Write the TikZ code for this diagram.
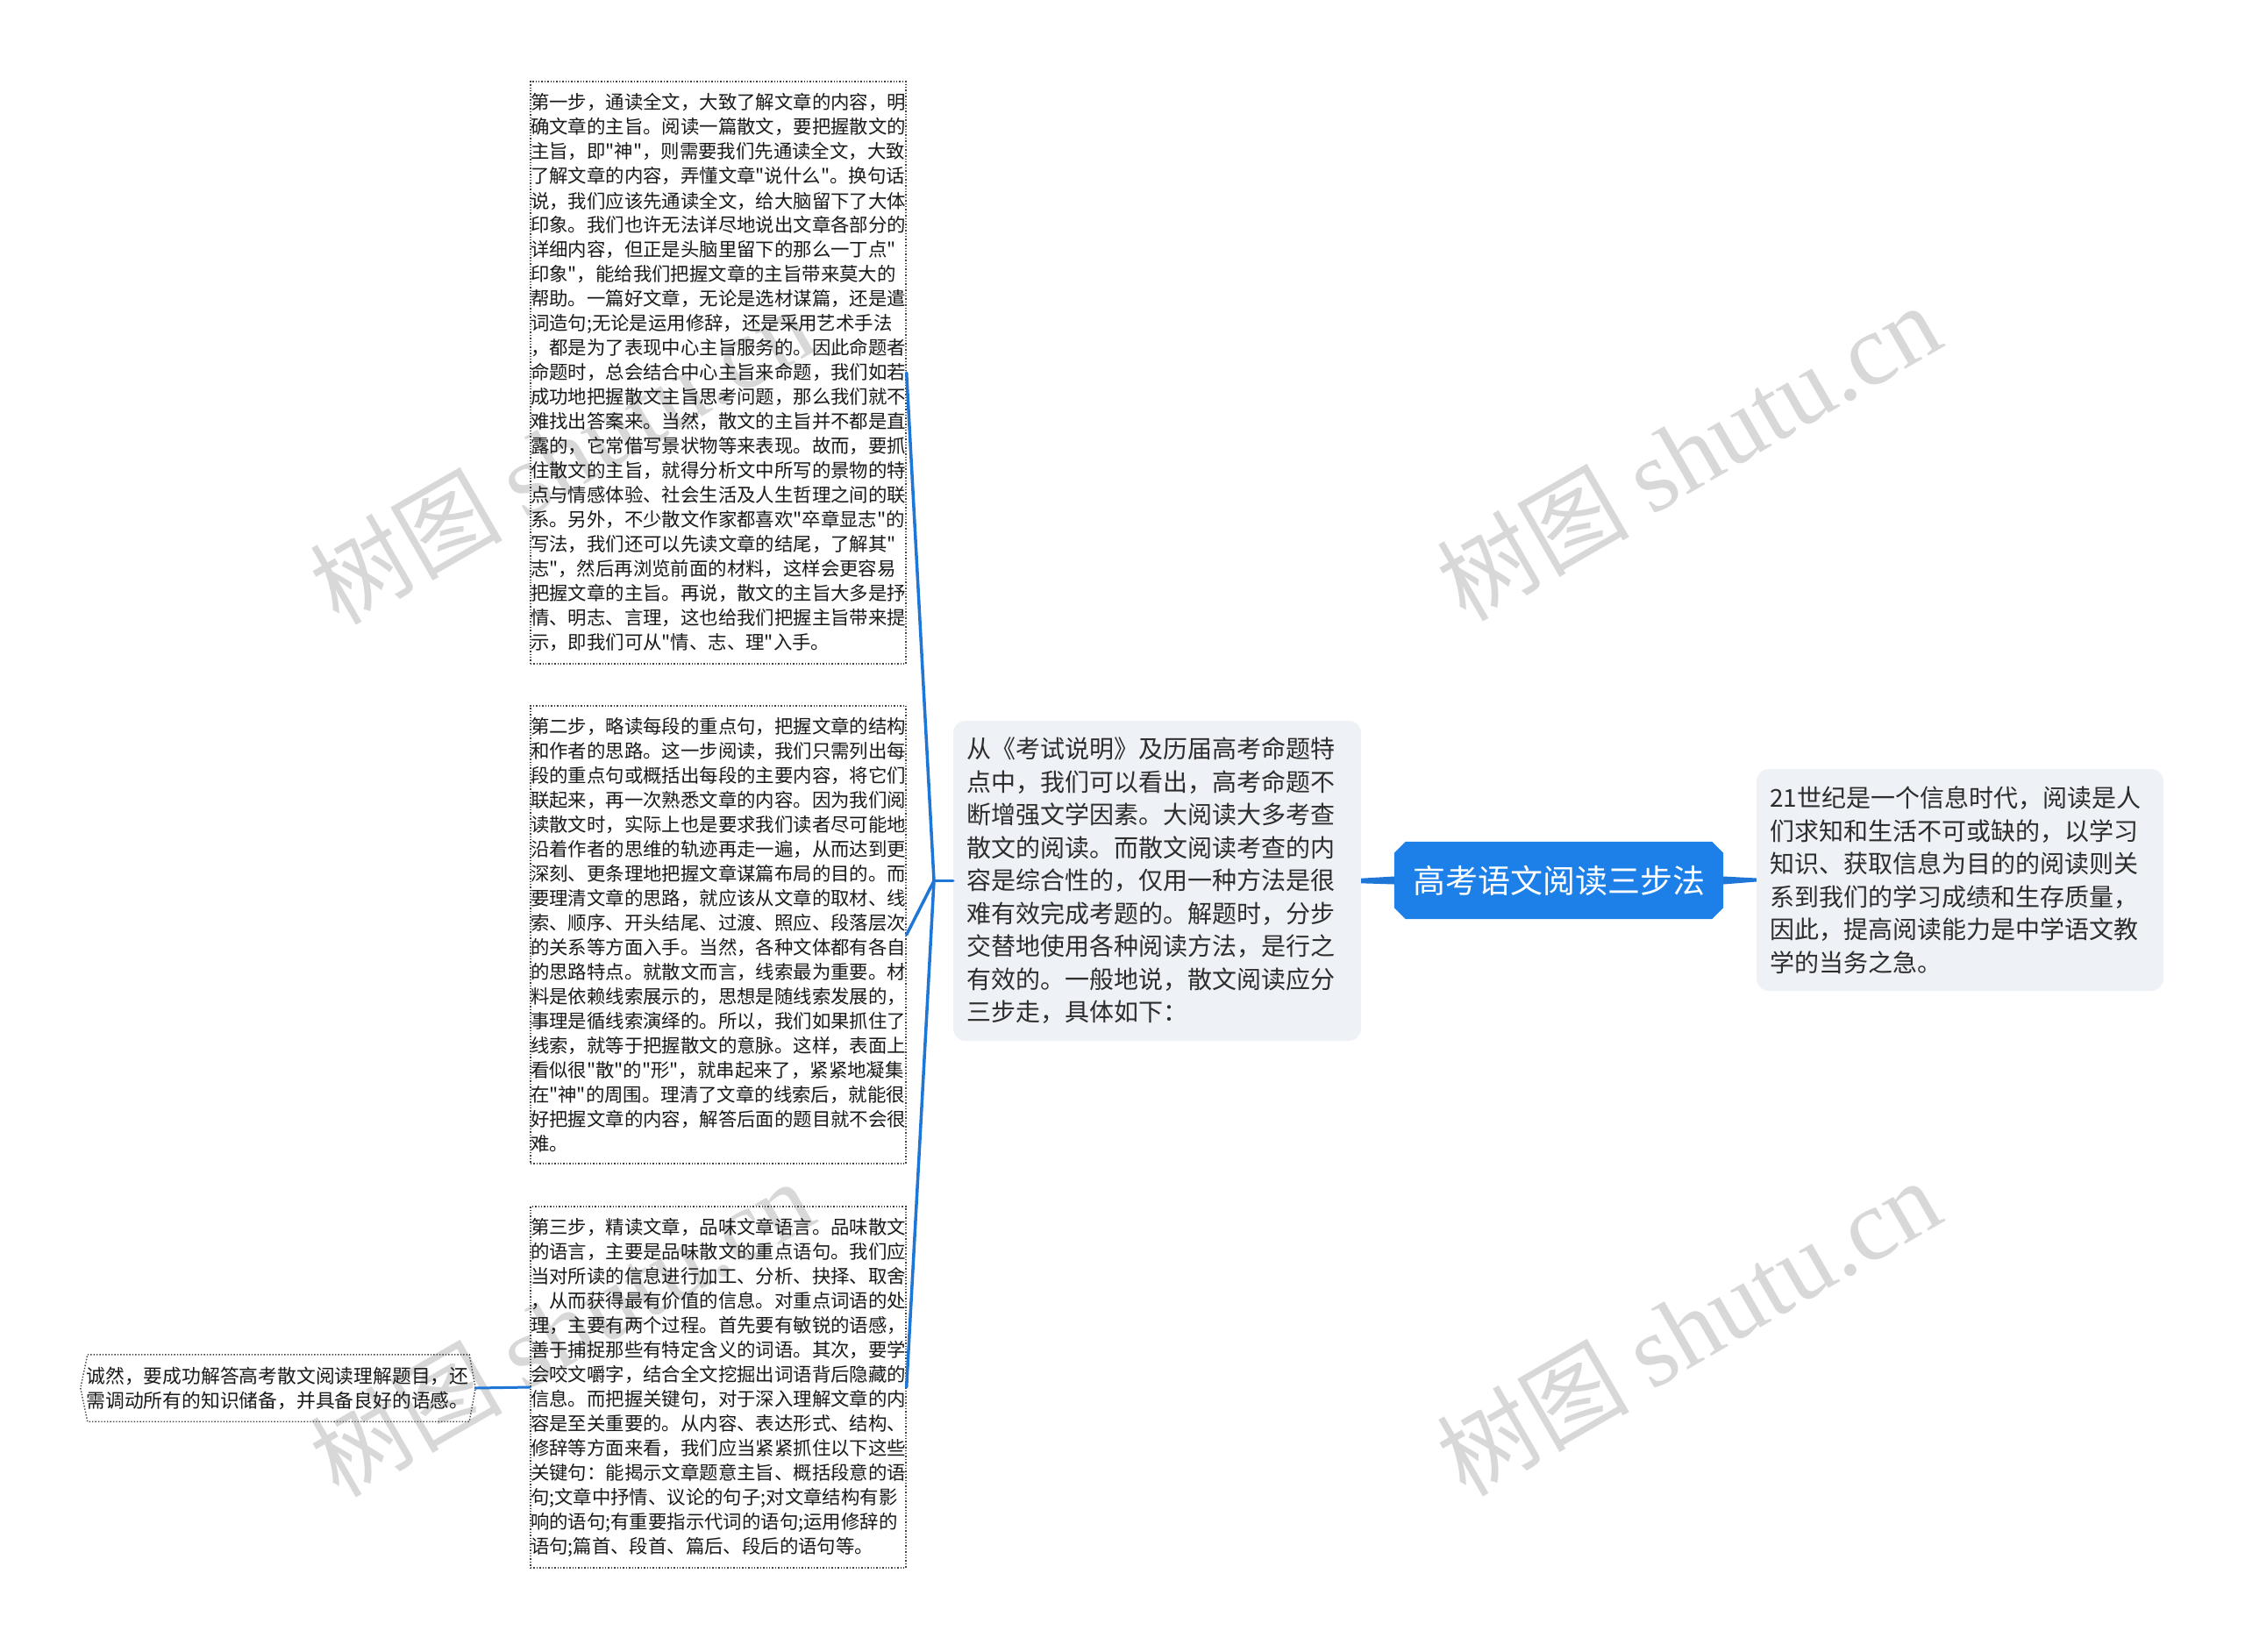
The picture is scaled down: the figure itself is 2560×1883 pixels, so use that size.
\documentclass[tikz,border=0pt]{standalone}
\usepackage{fontspec}
\setmainfont{Noto Sans CJK SC}[Ligatures=TeXOff]
\newfontfamily\cjkfont{Noto Sans CJK SC}
\newfontfamily\wmlatin{Liberation Serif}
\usetikzlibrary{calc,backgrounds}
\definecolor{lineblue}{RGB}{30,118,214}
\definecolor{rootblue}{RGB}{28,128,232}
\definecolor{boxgray}{RGB}{238,241,245}
\definecolor{txt}{RGB}{45,45,45}
\definecolor{wm}{RGB}{216,216,216}
\tikzset{
  stepbox/.style={draw=black!75, dotted, line width=1.4pt, text width=428pt, inner xsep=0pt, inner ysep=0pt,
    align=left, font=\cjkfont\fontsize{21.4pt}{28pt}\selectfont, text=black!90},
  leafbox/.style={text width=437pt, inner xsep=6.5pt, inner ysep=0pt, minimum height=76pt,
    align=left, font=\cjkfont\fontsize{21.8pt}{28pt}\selectfont, text=black!90},
  softbox/.style={fill=boxgray, rounded corners=14pt, inner xsep=15pt, inner ysep=0pt,
    align=left, font=\cjkfont\fontsize{28pt}{37.5pt}\selectfont, text=txt},
  rootbox/.style={minimum width=375pt, minimum height=88pt, inner sep=0pt,
    font=\cjkfont\fontsize{37pt}{42pt}\selectfont, text=white},
  conn/.style={draw=lineblue, line width=3.5pt, line cap=round, line join=round},
  wmark/.style={rotate=30, text=wm, inner sep=0pt, font=\cjkfont\fontsize{110pt}{120pt}\selectfont},
  dotborder/.style={draw=black!75, dotted, line width=1.4pt}
}
\begin{document}
\begin{tikzpicture}[x=1pt,y=-1pt]
\useasboundingbox (0,0) rectangle (2560,1883);

% watermarks
\node[wmark] (wm1) at (640,520) {树图 {\wmlatin\fontsize{116pt}{120pt}\selectfont shutu.cn}};
\node[wmark] (wm2) at (640,1515) {树图 {\wmlatin\fontsize{116pt}{120pt}\selectfont shutu.cn}};
\node[wmark] (wm3) at (1925,516) {树图 {\wmlatin\fontsize{116pt}{120pt}\selectfont shutu.cn}};
\node[wmark] (wm4) at (1925,1514) {树图 {\wmlatin\fontsize{116pt}{120pt}\selectfont shutu.cn}};

% root
\node[rootbox] (root) at (1777.5,1004) {高考语文阅读三步法};
\begin{scope}[on background layer]
\fill[white] (0,0) rectangle (2560,1883);
\fill[rootblue] ([xshift=13pt]root.north west) -- ([xshift=-13pt]root.north east)
  -- ([yshift=-13pt]root.north east) -- ([yshift=13pt]root.south east)
  -- ([xshift=-13pt]root.south east) -- ([xshift=13pt]root.south west)
  -- ([yshift=13pt]root.south west) -- ([yshift=-13pt]root.north west) -- cycle;
\end{scope}

% middle node
\node[softbox, minimum width=465pt, minimum height=365pt, text width=435pt] (mid) at (1319.5,1004.5) {%
从《考试说明》及历届高考命题特\\
点中，我们可以看出，高考命题不\\
断增强文学因素。大阅读大多考查\\
散文的阅读。而散文阅读考查的内\\
容是综合性的，仅用一种方法是很\\
难有效完成考题的。解题时，分步\\
交替地使用各种阅读方法，是行之\\
有效的。一般地说，散文阅读应分\\
三步走，具体如下：};

% right node
\node[softbox, minimum width=464pt, minimum height=253pt, text width=434pt] (right) at (2235,1003.5) {%
21世纪是一个信息时代，阅读是人\\
们求知和生活不可或缺的，以学习\\
知识、获取信息为目的的阅读则关\\
系到我们的学习成绩和生存质量，\\
因此，提高阅读能力是中学语文教\\
学的当务之急。};

% step boxes
\node[stepbox, minimum height=664pt] (s1) at (819,425) {%
第一步，通读全文，大致了解文章的内容，明\\
确文章的主旨。阅读一篇散文，要把握散文的\\
主旨，即"神"，则需要我们先通读全文，大致\\
了解文章的内容，弄懂文章"说什么"。换句话\\
说，我们应该先通读全文，给大脑留下了大体\\
印象。我们也许无法详尽地说出文章各部分的\\
详细内容，但正是头脑里留下的那么一丁点"\\
印象"，能给我们把握文章的主旨带来莫大的\\
帮助。一篇好文章，无论是选材谋篇，还是遣\\
词造句;无论是运用修辞，还是采用艺术手法\\
，都是为了表现中心主旨服务的。因此命题者\\
命题时，总会结合中心主旨来命题，我们如若\\
成功地把握散文主旨思考问题，那么我们就不\\
难找出答案来。当然，散文的主旨并不都是直\\
露的，它常借写景状物等来表现。故而，要抓\\
住散文的主旨，就得分析文中所写的景物的特\\
点与情感体验、社会生活及人生哲理之间的联\\
系。另外，不少散文作家都喜欢"卒章显志"的\\
写法，我们还可以先读文章的结尾，了解其"\\
志"，然后再浏览前面的材料，这样会更容易\\
把握文章的主旨。再说，散文的主旨大多是抒\\
情、明志、言理，这也给我们把握主旨带来提\\
示，即我们可从"情、志、理"入手。};

\node[stepbox, minimum height=522pt] (s2) at (819,1066) {%
第二步，略读每段的重点句，把握文章的结构\\
和作者的思路。这一步阅读，我们只需列出每\\
段的重点句或概括出每段的主要内容，将它们\\
联起来，再一次熟悉文章的内容。因为我们阅\\
读散文时，实际上也是要求我们读者尽可能地\\
沿着作者的思维的轨迹再走一遍，从而达到更\\
深刻、更条理地把握文章谋篇布局的目的。而\\
要理清文章的思路，就应该从文章的取材、线\\
索、顺序、开头结尾、过渡、照应、段落层次\\
的关系等方面入手。当然，各种文体都有各自\\
的思路特点。就散文而言，线索最为重要。材\\
料是依赖线索展示的，思想是随线索发展的，\\
事理是循线索演绎的。所以，我们如果抓住了\\
线索，就等于把握散文的意脉。这样，表面上\\
看似很"散"的"形"，就串起来了，紧紧地凝集\\
在"神"的周围。理清了文章的线索后，就能很\\
好把握文章的内容，解答后面的题目就不会很\\
难。};

\node[stepbox, minimum height=412pt] (s3) at (819,1582) {%
第三步，精读文章，品味文章语言。品味散文\\
的语言，主要是品味散文的重点语句。我们应\\
当对所读的信息进行加工、分析、抉择、取舍\\
，从而获得最有价值的信息。对重点词语的处\\
理，主要有两个过程。首先要有敏锐的语感，\\
善于捕捉那些有特定含义的词语。其次，要学\\
会咬文嚼字，结合全文挖掘出词语背后隐藏的\\
信息。而把握关键句，对于深入理解文章的内\\
容是至关重要的。从内容、表达形式、结构、\\
修辞等方面来看，我们应当紧紧抓住以下这些\\
关键句：能揭示文章题意主旨、概括段意的语\\
句;文章中抒情、议论的句子;对文章结构有影\\
响的语句;有重要指示代词的语句;运用修辞的\\
语句;篇首、段首、篇后、段后的语句等。};

% leaf
\node[leafbox] (leaf) at (317,1583) {%
诚然，要成功解答高考散文阅读理解题目，还\\
需调动所有的知识储备，并具备良好的语感。};
\draw[dotborder] ([xshift=8pt]leaf.north west) -- ([xshift=-7pt]leaf.north east) -- (leaf.east)
  -- ([xshift=-7pt]leaf.south east) -- ([xshift=8pt]leaf.south west) -- (leaf.west) -- cycle;

% connectors
\coordinate (J) at (1065,1004.5);
\draw[conn] (mid.west) -- (J);
\draw[conn] (J) -- (s1.east);
\draw[conn] (J) -- (s2.east);
\draw[conn] (J) -- (s3.east);
\draw[conn, line width=3pt] (leaf.east) -- (s3.west);

% tapered root connectors
\fill[lineblue] ($(mid.east)+(0,-2.8)$) -- ($(root.west)+(0,-4.5)$) -- ($(root.west)+(0,4.5)$) -- ($(mid.east)+(0,2.8)$) -- cycle;
\fill[lineblue] ($(root.east)+(0,-4.5)$) -- ($(right.west)+(0,-2)$) -- ($(right.west)+(0,2)$) -- ($(root.east)+(0,4.5)$) -- cycle;
\end{tikzpicture}
\end{document}
